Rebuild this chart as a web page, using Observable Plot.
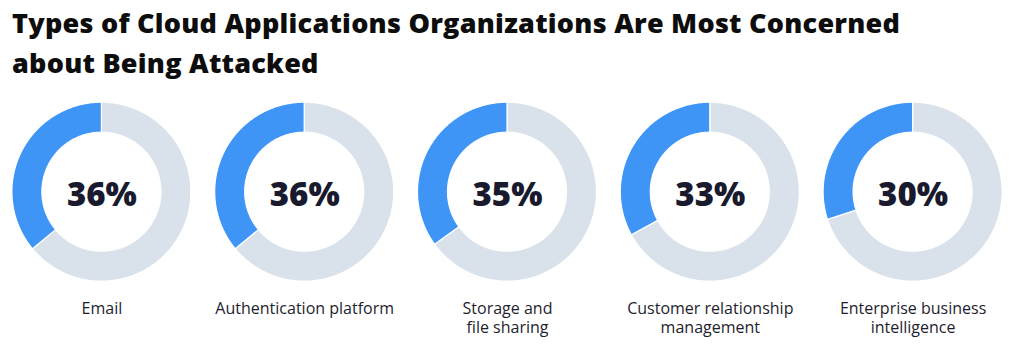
<!DOCTYPE html>
<html>
<head>
<meta charset="utf-8">
<script src="https://cdn.jsdelivr.net/npm/d3@7"></script>
<script src="https://cdn.jsdelivr.net/npm/@observablehq/plot@0.6"></script>
<style>
  html, body { margin: 0; padding: 0; background: #fff; }
  #title {
    font-family: "Open Sans", Lato, sans-serif;
    font-weight: 800;
    font-size: 27px;
    line-height: 40px;
    color: #0d0d0d;
    padding: 3px 0 0 12px;
    height: 85px;
    box-sizing: content-box;
    white-space: nowrap;
  }
  #chart svg { display: block; }
</style>
</head>
<body>
<div id="title"><span id="t1">Types of Cloud Applications Organizations Are Most Concerned</span><br><span>about Being Attacked</span></div>
<div id="chart"></div>
<script>
// ---- data ----
const categories = ["Email", "Authentication platform", "Storage and\nfile sharing", "Customer relationship\nmanagement", "Enterprise business\nintelligence"];
const percents = [36, 36, 35, 33, 30];

// fit title letter-spacing to the reference line width
(function () {
  const t1 = document.getElementById("t1");
  const w = t1.getBoundingClientRect().width;
  const n = t1.textContent.length;
  const target = 888;
  document.getElementById("title").style.letterSpacing = ((target - w) / n).toFixed(2) + "px";
})();

// ---- geometry (unit = one donut slot) ----
const slot = 202.8;               // px per slot
const W = 1020, H = 264;
const cyPx = 103.7;               // donut centre in svg px
const rOuter = 89.5 / slot, rInner = 59.5 / slot;

function sector(i, a0, a1, key) {
  const pts = [];
  const n = Math.max(2, Math.ceil((a1 - a0) / (Math.PI / 360)));
  const cx = i + 0.5;
  for (let k = 0; k <= n; k++) {
    const t = a0 + (a1 - a0) * k / n;
    pts.push({
      key,
      x1: cx - rOuter * Math.sin(t), y1: rOuter * Math.cos(t),
      x2: cx - rInner * Math.sin(t), y2: rInner * Math.cos(t)
    });
  }
  return pts;
}

const blue = [], gray = [];
categories.forEach((c, i) => {
  const a = percents[i] / 100 * 2 * Math.PI;
  blue.push(...sector(i, 0, a, c));
  gray.push(...sector(i, a, 2 * Math.PI, c));
});
const labels = categories.map((c, i) => ({ c, x: i + 0.5, p: percents[i] + "%" }));

const chart = Plot.plot({
  width: W, height: H,
  marginLeft: 0, marginRight: W - 5 * slot, marginTop: 0, marginBottom: 0,
  x: { domain: [0, 5], axis: null },
  y: { domain: [-(H - cyPx) / slot, cyPx / slot], axis: null },
  style: { background: "white", overflow: "visible" },
  marks: [
    Plot.area(gray, { x1: "x1", y1: "y1", x2: "x2", y2: "y2", z: "key", fill: "#d9e1ea", stroke: "white", strokeWidth: 1.2 }),
    Plot.area(blue, { x1: "x1", y1: "y1", x2: "x2", y2: "y2", z: "key", fill: "#3f95f6", stroke: "white", strokeWidth: 1.2 }),
    Plot.text(labels, { x: "x", y: () => 0, text: "p", fontSize: 33, fontWeight: 800, fill: "#1a1a2e", dy: 3,
      fontFamily: "'Open Sans', sans-serif" }),
    Plot.text(labels, { x: "x", y: () => 0, text: "c", fontSize: 16, fill: "#1e1e2e", lineAnchor: "top", dy: 108,
      lineHeight: 1.2, fontFamily: "'Open Sans', sans-serif" })
  ]
});
document.getElementById("chart").appendChild(chart);
</script>
</body>
</html>
